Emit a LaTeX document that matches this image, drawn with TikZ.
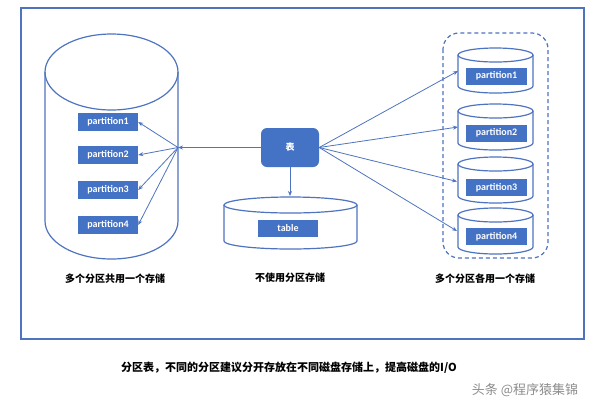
\documentclass[tikz,border=0pt]{standalone}
\usepackage{fontspec}
\setmainfont{Carlito}
\newfontfamily\cjk{Noto Sans CJK SC}
\usetikzlibrary{arrows.meta}
\definecolor{ob}{HTML}{4472C4}
\definecolor{obl}{HTML}{4F74BF}
\newcommand{\mycyl}[5]{% cx, top-centre y, bottom-centre y, rx, ry
  \draw[cylline] (#1-#4,#2) -- (#1-#4,#3) arc[start angle=180,end angle=360,x radius=#4pt,y radius=#5pt] -- (#1+#4,#2);
  \draw[cylline] (#1,#2) ellipse[x radius=#4pt,y radius=#5pt];}
\tikzset{
  pbox/.style={fill=ob, text=white, font=\bfseries\fontsize{10}{11}\selectfont, inner sep=0pt, minimum width=60pt, minimum height=18pt},
  cylline/.style={draw=obl, line width=1.2pt},
  arr/.style={draw=obl, line width=0.8pt, -{Stealth[length=5pt,width=4pt]}},
  lab/.style={font=\cjk\bfseries\fontsize{10}{12}\selectfont, text=black},
}
\begin{document}
\begin{tikzpicture}[x=1pt,y=-1pt]
\useasboundingbox[fill=white] (0,0) rectangle (600,400);
% outer frame
\draw[draw=obl, line width=1.5pt] (21,8) rectangle (584,339);
% dashed group
\draw[draw=obl, line width=1.2pt, dash pattern=on 4pt off 3pt, rounded corners=16pt] (443,33) rectangle (548,258);
% left cylinder
\mycyl{111.5}{72}{221}{66.5}{38}
% middle cylinder
\mycyl{290.5}{205}{241}{66.5}{8}
% right cylinders
\mycyl{495.5}{55}{86}{37.5}{7}
\mycyl{495.5}{111}{143}{37.5}{7}
\mycyl{495.5}{164}{196}{37.5}{7}
\mycyl{495.5}{215}{247}{37.5}{7}
% boxes
\node[pbox] (lp1) at (108,122) {partition1};
\node[pbox] (lp2) at (108,155) {partition2};
\node[pbox] (lp3) at (108,190) {partition3};
\node[pbox] (lp4) at (108,225) {partition4};
\node[pbox, minimum width=61pt, minimum height=17pt] (rp1) at (496.5,76) {partition1};
\node[pbox, minimum width=61pt, minimum height=17pt] (rp2) at (496.5,133) {partition2};
\node[pbox, minimum width=61pt, minimum height=17pt] (rp3) at (496.5,187.5) {partition3};
\node[pbox, minimum width=61pt, minimum height=17pt] (rp4) at (496.5,236.5) {partition4};
\node[pbox, minimum height=17pt] (tb) at (288,228.5) {table};
\node[fill=ob, text=white, rounded corners=6pt, minimum width=58pt, minimum height=39pt, inner sep=0pt, font=\cjk\bfseries\fontsize{9}{10}\selectfont] (biao) at (290,147.5) {表};
% connector points
\coordinate (hub) at (178,147.5);
\coordinate (mtop) at (290,196);
\coordinate (e1) at (458,71);
\coordinate (e2) at (458,127);
\coordinate (e3) at (457,181.5);
\coordinate (e4) at (457,231);
% arrows
\draw[arr] (biao.west) -- (hub);
\draw[arr] (hub) -- (lp1.east);
\draw[arr] (hub) -- (lp2.east);
\draw[arr] (hub) -- (lp3.east);
\draw[arr] (hub) -- (lp4.east);
\draw[arr] (biao.south) -- (mtop);
\draw[arr] (biao.east) -- (e1);
\draw[arr] (biao.east) -- (e2);
\draw[arr] (biao.east) -- (e3);
\draw[arr] (biao.east) -- (e4);
% labels
\node[lab] (l1) at (115,279) {多个分区共用一个存储};
\node[lab] (l2) at (290,278) {不使用分区存储};
\node[lab] (l3) at (485,279) {多个分区各用一个存储};
\node[font=\cjk\bfseries\fontsize{11}{13}\selectfont] (cap) at (289,368) {分区表，不同的分区建议分开存放在不同磁盘存储上，提高磁盘的I/O};
\node[font=\cjk\fontsize{13}{15}\selectfont, text=black!45] (wm) at (525,390) {头条 @程序猿集锦};
\end{tikzpicture}
\end{document}
